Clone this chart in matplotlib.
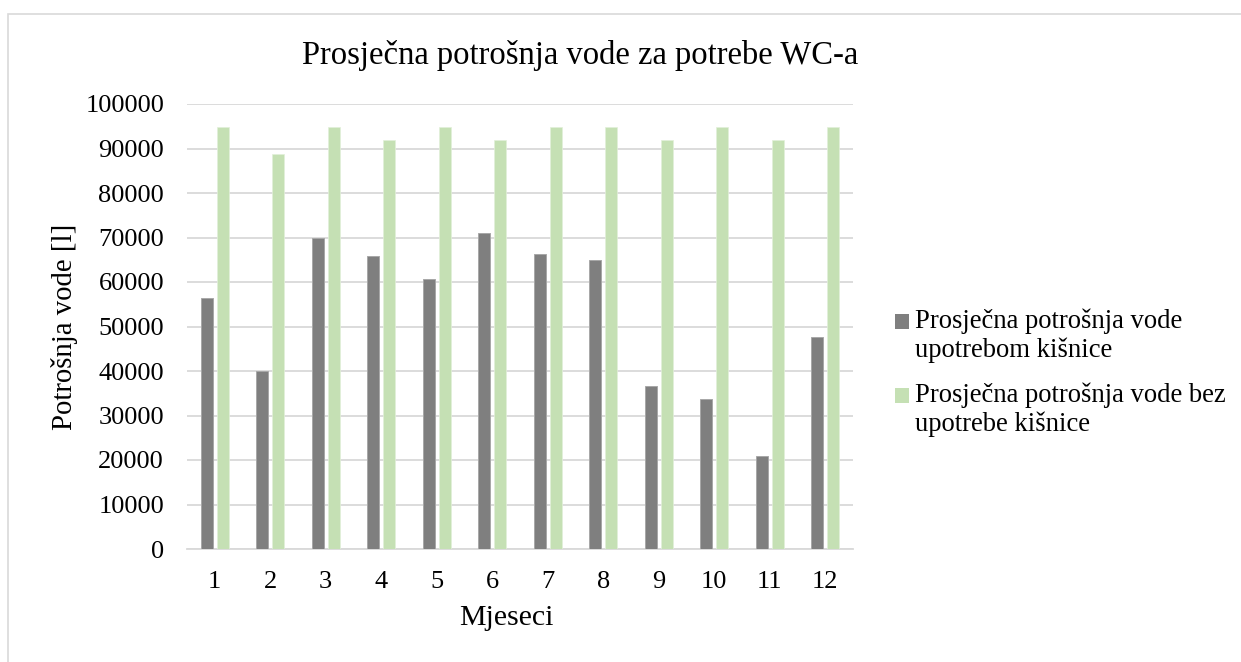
import matplotlib
matplotlib.use("Agg")
import matplotlib.pyplot as plt
from matplotlib.patches import Rectangle
from matplotlib.legend_handler import HandlerPatch
import numpy as np

months = ["1", "2", "3", "4", "5", "6", "7", "8", "9", "10", "11", "12"]
with_rain = [56400, 40000, 70000, 65800, 60700, 71000, 66400, 65000, 36700, 33700, 20800, 47700]
without_rain = [94800, 88800, 94800, 91800, 94800, 91800, 94800, 94800, 91800, 94800, 91800, 94800]
series_labels = ["Prosječna potrošnja vode\nupotrebom kišnice",
                 "Prosječna potrošnja vode bez\nupotrebe kišnice"]
yticks = [0, 10000, 20000, 30000, 40000, 50000, 60000, 70000, 80000, 90000, 100000]

plt.rcParams['font.family'] = ['Liberation Serif', 'DejaVu Serif']

W, H = 1241, 662
fig = plt.figure(figsize=(W / 100, H / 100), dpi=100)
fig.patches.append(Rectangle((8 / W, -0.05), 1.2, 1.05 - 14 / H,
                             transform=fig.transFigure, fill=False,
                             edgecolor='#d9d9d9', linewidth=1.2))

ax = fig.add_axes([187 / W, (H - 549) / H, (853 - 187) / W, (549 - 104) / H])
x = np.arange(1, len(months) + 1)
bw = 0.22
b1 = ax.bar(x - 0.143, with_rain, width=bw, color='#7f7f7f', edgecolor='#a8a8a8',
            linewidth=0.7, label=series_labels[0], zorder=3)
b2 = ax.bar(x + 0.145, without_rain, width=bw, color='#c5e0b4', edgecolor='#e2f0d9',
            linewidth=0.5, label=series_labels[1], zorder=3)

ax.set_xlim(0.5, 12.5)
ax.set_ylim(0, 100000)
ax.set_yticks(yticks)
ax.set_yticklabels([str(v) for v in yticks])
ax.set_xticks(x)
ax.set_xticklabels(months)
ax.yaxis.grid(True, color='#d9d9d9', linewidth=1.3, zorder=0)
ax.set_axisbelow(True)
for s in ['top', 'right', 'left']:
    ax.spines[s].set_visible(False)
ax.spines['bottom'].set_color('#d9d9d9')
ax.spines['bottom'].set_linewidth(1.3)
ax.tick_params(axis='both', length=0, labelsize=19)
ax.tick_params(axis='y', pad=16.5)
ax.tick_params(axis='x', pad=16)

ax.set_xlabel("Mjeseci", fontsize=21.5)
ax.xaxis.set_label_coords((506 - 187) / 666, (549 - 605) / 445)
ax.set_ylabel("Potrošnja vode [l]", fontsize=20.7)
ax.yaxis.set_label_coords((78 - 187) / 666, 0.5)

fig.text(580 / W, 1 - 64 / H, "Prosječna potrošnja vode za potrebe WC-a",
         ha='center', va='baseline', fontsize=23.5)

LEG_FS = 19.2
SHIFT = 10.0  # points: move the key up to the first text line


def top_square(legend, orig_handle, xdescent, ydescent, width, height, fontsize):
    return Rectangle((-xdescent, -ydescent + SHIFT), width, height)


leg = ax.legend([b1.patches[0], b2.patches[0]], series_labels,
                loc='upper left', bbox_to_anchor=(895 / W, 1 - 308 / H),
                bbox_transform=fig.transFigure, frameon=False, fontsize=LEG_FS,
                handlelength=0.52, handleheight=0.52, handletextpad=0.22,
                labelspacing=0.72, borderpad=0, borderaxespad=0,
                handler_map={Rectangle: HandlerPatch(patch_func=top_square)})
for h in leg.legend_handles:
    h.set_edgecolor('none')

fig.savefig("out.png", dpi=100)
